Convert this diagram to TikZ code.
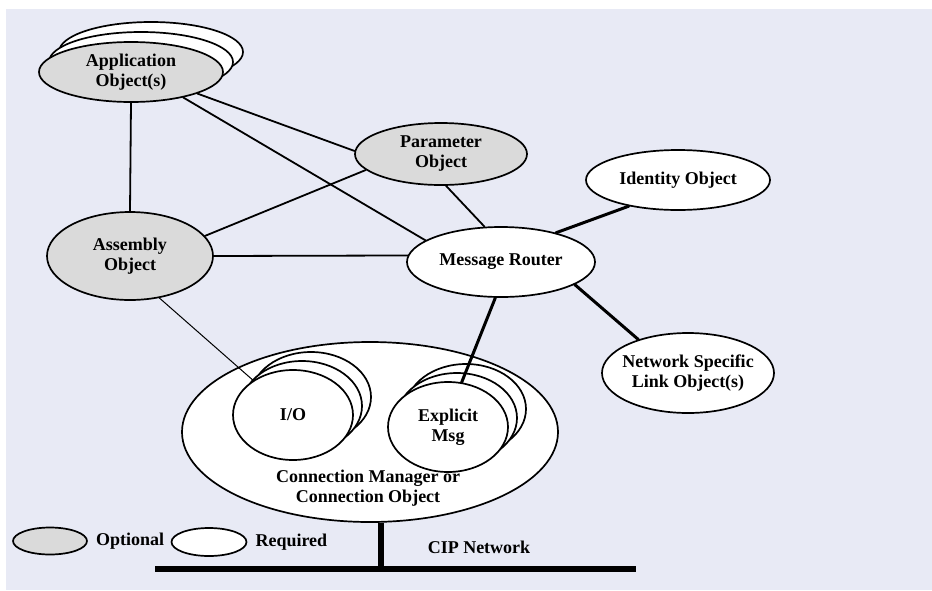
\documentclass[tikz,border=0pt]{standalone}
\usepackage{fontspec}
\setmainfont{Liberation Serif}
\usetikzlibrary{shapes.geometric,positioning}

\definecolor{bgblue}{RGB}{232,234,245}
\definecolor{optgray}{RGB}{218,218,218}

\begin{document}
\begin{tikzpicture}[x=1pt, y=-1pt, line cap=round, line join=round,
        obj/.style={ellipse, draw, line width=1.7pt, inner sep=0pt, align=center,
                    font=\fontsize{18}{20}\selectfont\bfseries},
        optional/.style={obj, fill=optgray},
        required/.style={obj, fill=white},
        txt/.style={inner sep=0pt, align=center, font=\fontsize{18}{20}\selectfont\bfseries},
        link/.style={line width=1.8pt},
        strong/.style={line width=3pt},
        weak/.style={line width=1pt},
        bus/.style={line width=5.5pt, line cap=butt}]

    \useasboundingbox (0,0) rectangle (932,590);
    \fill[white] (0,0) rectangle (932,590);
    \fill[bgblue] (6,9) rectangle (932,590);

    % objects
    \node[required, minimum width=184, minimum height=60] (app3) at (151,52) {};
    \node[required, minimum width=184, minimum height=60] (app2) at (141,62) {};
    \node[optional, minimum width=184, minimum height=60] (app) at (131,72) {Application\\Object(s)};

    \node[optional, minimum width=172, minimum height=62] (param) at (441,154) {Parameter\\Object};
    \node[optional, minimum width=166, minimum height=88] (asm) at (130,256) {Assembly\\Object};
    \node[required, minimum width=188, minimum height=70] (router) at (501,262) {Message Router};
    \node[required, minimum width=184, minimum height=60] (ident) at (678,180) {Identity Object};
    \node[required, minimum width=172, minimum height=80, inner xsep=-14pt] (net) at (688,373) {Network Specific\\Link Object(s)};

    % connection manager
    \node[required, minimum width=376, minimum height=180] (conn) at (370,432) {};
    \node[txt] (conntext) at (368,488) {Connection Manager or\\Connection Object};

    \node[required, minimum width=120, minimum height=90] (io3) at (311,397) {};
    \node[required, minimum width=120, minimum height=90] (io2) at (302,406) {};
    \node[required, minimum width=120, minimum height=90] (io) at (293,415) {I/O};

    \node[required, minimum width=120, minimum height=90] (expl3) at (466,409) {};
    \node[required, minimum width=120, minimum height=90] (expl2) at (457,418) {};
    \node[required, minimum width=120, minimum height=90] (expl) at (448,427) {Explicit\\Msg};

    % links
    \draw[link] (app.south) -- (asm.north);
    \draw[link] (app.-18) -- (param.178);
    \draw[link] (app.-26) -- (router.164);
    \draw[link] (param.-168) -- (asm.15);
    \draw[link] (param.-81) -- (router.115);
    \draw[link] (asm.east) -- (router.176);
    \draw[strong] (router.28) -- (ident.-152);
    \draw[strong] (router.-17) -- (net.146);
    \draw[strong] (router.-99) -- (expl.73);
    \draw[weak] (asm.-55) -- (io.139);

    % network
    \coordinate (busL) at (155,569);
    \coordinate (busR) at (636,569);
    \coordinate (tap) at (381,569);
    \draw[bus] (busL) -- (busR);
    \draw[bus] (tap |- conn.south) -- (tap);
    \node[txt] (cip) at (479,547) {CIP Network};

    % legend
    \node[optional, minimum width=74, minimum height=27] (keyopt) at (50,541) {};
    \node[txt, right=8pt of keyopt] (keyopttext) {Optional};
    \node[required, minimum width=75, minimum height=28] (keyreq) at (209,542) {};
    \node[txt, right=8pt of keyreq] (keyreqtext) {Required};

\end{tikzpicture}
\end{document}
